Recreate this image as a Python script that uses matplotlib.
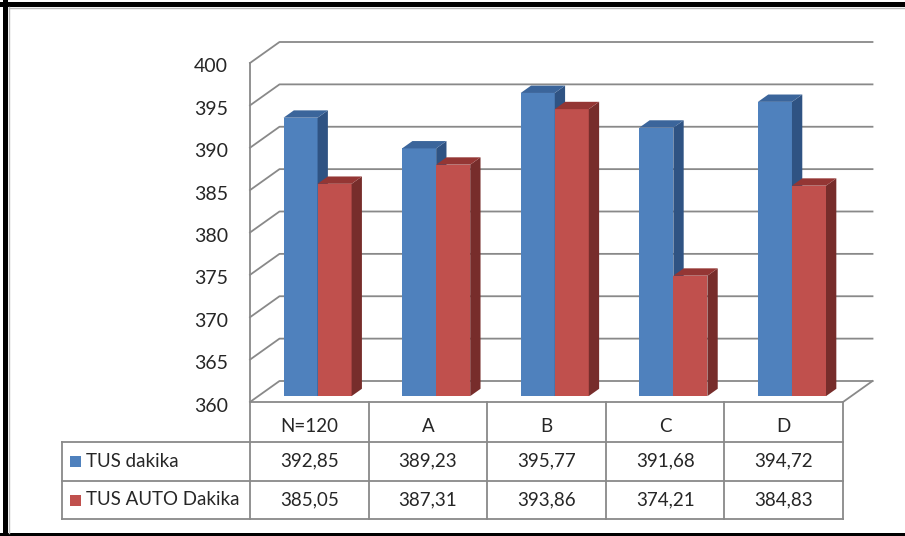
import matplotlib.pyplot as plt
import matplotlib.patches as mpatches
from matplotlib.transforms import IdentityTransform, offset_copy
from matplotlib.lines import Line2D

plt.rcParams["font.family"] = ["Lato", "DejaVu Sans"]

categories = ["N=120", "A", "B", "C", "D"]
series_names = ["TUS dakika", "TUS AUTO Dakika"]
tus_dakika = [392.85, 389.23, 395.77, 391.68, 394.72]
tus_auto_dakika = [385.05, 387.31, 393.86, 374.21, 384.83]
y_ticks = [360, 365, 370, 375, 380, 385, 390, 395, 400]

# front / top / side shades per series
FACE_COLORS = [
    ("#4F81BD", "#3B659B", "#2F5383"),
    ("#C0504D", "#943634", "#772D2B"),
]
GRID = "#898989"
TEXT = "#262626"

W, H = 905, 536
fig = plt.figure(figsize=(W / 100, H / 100), dpi=100)
fig.patch.set_facecolor("white")

# front plane of the 3D plot box, in pixels from the top-left
PX_L, PX_R, PX_TOP, PX_BOT = 250, 843, 63, 402
ax = fig.add_axes([PX_L / W, 1 - PX_BOT / H, (PX_R - PX_L) / W, (PX_BOT - PX_TOP) / H])
ax.set_xlim(-0.5, len(categories) - 0.5)
ax.set_ylim(y_ticks[0], y_ticks[-1])
ax.axis("off")

DEPTH_X, DEPTH_Y = 29.5, 21.0  # wall depth in pixels
ident = IdentityTransform()


def proj(x, v, z=0.0):
    """Data point (category x, value v) pushed back by depth fraction z."""
    px, py = ax.transData.transform((x, v))
    return (px + z * DEPTH_X, py + z * DEPTH_Y)


def line(points, **kw):
    kw.setdefault("color", GRID)
    kw.setdefault("lw", 1.3)
    ax.add_line(Line2D([p[0] for p in points], [p[1] for p in points],
                       transform=ident, clip_on=False, **kw))


def poly(points, color, z):
    ax.add_patch(mpatches.Polygon(points, closed=True, facecolor=color, edgecolor="none",
                                  transform=ident, clip_on=False, zorder=z))


x0, x1 = -0.5, len(categories) - 0.5

# walls: gridlines on the back wall and the side wall
for v in y_ticks:
    line([proj(x0, v), proj(x0, v, 1), proj(x1, v, 1)], zorder=1)
line([proj(x0, y_ticks[0]), proj(x0, y_ticks[-1])], zorder=1)
line([proj(x1, y_ticks[0]), proj(x1, y_ticks[0], 1)], zorder=1)

# y tick labels on the front edge
for v in y_ticks:
    px, py = proj(x0, v)
    fig.text(px - 22, py - 4, f"{v}", transform=ident, ha="right", va="center",
             fontsize=14, color=TEXT)

# 3D columns
BAR_W = 0.287
Z0, DZ = 0.28, 0.35
tr = offset_copy(ax.transData, fig=fig, x=Z0 * DEPTH_X, y=Z0 * DEPTH_Y, units="dots")
for i in range(len(categories)):
    for s, values in enumerate([tus_dakika, tus_auto_dakika]):
        v = values[i]
        front, top, side = FACE_COLORS[s]
        left = i - BAR_W + s * BAR_W
        right = left + BAR_W
        z = 3 + 2 * i + s
        ax.bar(left, v - y_ticks[0], width=BAR_W, bottom=y_ticks[0], align="edge",
               color=front, transform=tr, zorder=z, clip_on=False)
        poly([proj(right, y_ticks[0], Z0), proj(right, y_ticks[0], Z0 + DZ),
              proj(right, v, Z0 + DZ), proj(right, v, Z0)], side, z)
        poly([proj(left, v, Z0), proj(right, v, Z0),
              proj(right, v, Z0 + DZ), proj(left, v, Z0 + DZ)], top, z)

# data table under the plot
ROW_H = 38.5
TABLE_L = 62
yb = H - PX_BOT
rows_y = [yb, yb - 40, yb - 40 - ROW_H, yb - 40 - 2 * ROW_H]
xl = proj(x0, y_ticks[0])[0]
xr = proj(x1, y_ticks[0])[0]
line([(xl, rows_y[0]), (xr, rows_y[0])], zorder=2)
for y in rows_y[1:]:
    line([(TABLE_L, y), (xr, y)], zorder=2)
line([(TABLE_L, rows_y[1]), (TABLE_L, rows_y[3])], zorder=2)
for k in range(len(categories) + 1):
    xk = proj(k - 0.5, y_ticks[0])[0]
    line([(xk, rows_y[0]), (xk, rows_y[3])], zorder=2)

for i, cat in enumerate(categories):
    xc = proj(i, y_ticks[0])[0]
    fig.text(xc, (rows_y[0] + rows_y[1]) / 2 - 5, cat, transform=ident,
             ha="center", va="center", fontsize=13.5, color=TEXT)
    for r, values in enumerate([tus_dakika, tus_auto_dakika]):
        label = f"{values[i]:.2f}".replace(".", ",")
        fig.text(xc, (rows_y[r + 1] + rows_y[r + 2]) / 2, label, transform=ident,
                 ha="center", va="center", fontsize=13.5, color=TEXT)

for r, name in enumerate(series_names):
    yc = (rows_y[r + 1] + rows_y[r + 2]) / 2
    fig.add_artist(mpatches.Rectangle((70, yc - 6), 11, 11, facecolor=FACE_COLORS[r][0],
                                      edgecolor="none", transform=ident))
    fig.text(86, yc, name, transform=ident, ha="left", va="center",
             fontsize=13.5, color=TEXT)

# black frame around the chart area
for rect in [(0, H - 7, W, 5), (3, 0, 5, H), (0, 0, W, 3)]:
    fig.add_artist(mpatches.Rectangle(rect[:2], rect[2], rect[3], facecolor="black",
                                      edgecolor="none", transform=ident))
fig.add_artist(Line2D([9, 9], [3, H - 7], color="#bbbbbb", lw=1, transform=ident))
fig.add_artist(Line2D([9, W], [H - 8, H - 8], color="#bbbbbb", lw=1, transform=ident))

fig.savefig("out.png", dpi=100, facecolor="white")
